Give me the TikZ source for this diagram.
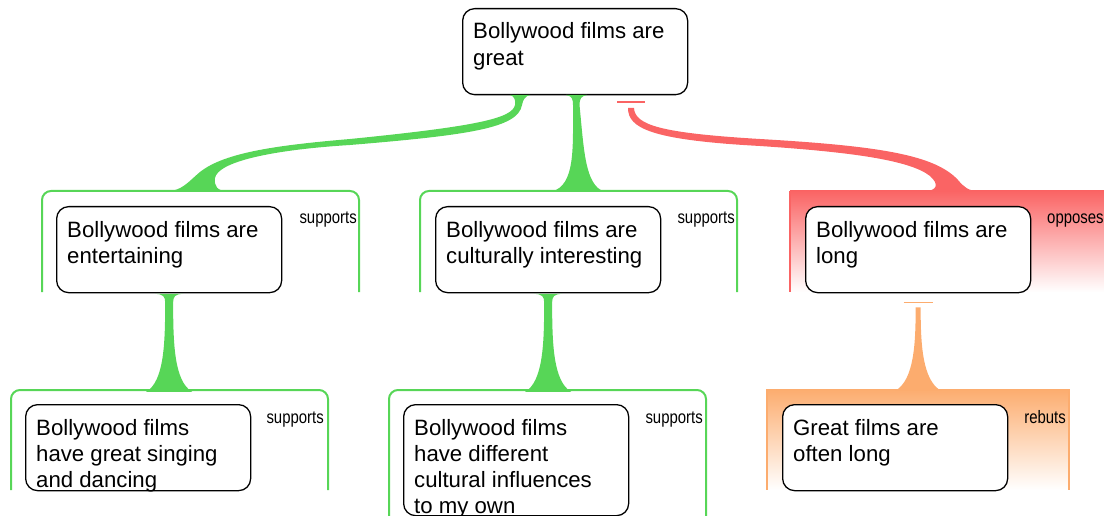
\documentclass[tikz,border=0pt]{standalone}
\usepackage{fontspec}
\setmainfont{Liberation Sans}
\usepackage{graphicx}
\usetikzlibrary{calc}
\definecolor{sgreen}{RGB}{87,214,87}
\definecolor{sred}{RGB}{250,100,100}
\definecolor{sorange}{RGB}{252,172,110}
\newcommand\mlines[1]{\begin{tabular}[t]{@{}l@{}}#1\end{tabular}}
\newcommand\narrow[1]{\scalebox{0.83}[1]{#1}}
\begin{document}
\begin{tikzpicture}[x=1pt,y=-1pt,
  claim/.style={draw=black, line width=1.3pt, rounded corners=12pt, fill=white,
    inner sep=0pt, anchor=north west, minimum width=225pt, minimum height=86pt},
  txt/.style={anchor=base west, inner sep=0pt, font=\fontsize{22.2}{26.2}\selectfont},
  rel/.style={anchor=base east, inner sep=0pt, font=\fontsize{18}{20}\selectfont},
  gframe/.style={draw=sgreen, line width=2pt, rounded corners=9pt},
  tbar/.style={line width=1.5pt}]
\useasboundingbox (0,0) rectangle (1104,516);

% ---- group frames ----
\draw[gframe] (42,292) -- (42,191) -- (359,191) -- (359,292);
\draw[gframe] (420,292) -- (420,191) -- (737,191) -- (737,292);
\shade[top color=sred, bottom color=white] (790,191) rectangle (1107,292);
\draw[sred, line width=1.3pt] (790,191) -- (790,292);
\draw[gframe] (11,490) -- (11,390) -- (328,390) -- (328,490);
\draw[gframe] (389,517) -- (389,390) -- (706,390) -- (706,517);
\shade[top color=sorange, bottom color=white] (767,389) rectangle (1069,490);
\draw[sorange, line width=1.3pt] (767,389) -- (767,490);
\draw[sorange, line width=1.3pt] (1069,389) -- (1069,490);

% ---- claim boxes ----
\node[claim] (top) at (462,8) {};
\node[claim] (n1) at (56,206) {};
\node[claim] (n2) at (435,206) {};
\node[claim] (n3) at (805,206) {};
\node[claim] (n4) at (25,404) {};
\node[claim, minimum height=111pt] (n5) at (403,404) {};
\node[claim] (n6) at (782,404) {};

% ---- connectors (tapered) ----
% top -> n1 (supports)
\fill[sgreen] (510,95) .. controls (514,96) and (516,100) .. (515,105)
  .. controls (512,118) and (480,126) .. (350,139)
  .. controls (280,145) and (225,152) .. (200,172)
  .. controls (188,182) and (182,191) .. (166,191.5)
  -- (228,191.5)
  .. controls (217,191) and (214,186) .. (215,178)
  .. controls (218,162) and (270,150) .. (350,145)
  .. controls (470,135) and (518,128) .. (522,105)
  .. controls (523,100) and (525,96) .. (530,95) -- cycle;
% top -> n2 (supports)
\fill[sgreen] (566,95) .. controls (572,96) and (573,99) .. (573,105)
  .. controls (573,150) and (575,185) .. (552,191.5) -- (604,191.5)
  .. controls (585,185) and (584,150) .. (579.5,105)
  .. controls (579.5,99) and (581,96) .. (587,95) -- cycle;
% top -> n3 (opposes)
\draw[sred, tbar] (617,102) -- (645,102);
\fill[sred] (634,108) .. controls (635,125) and (660,133) .. (760,139)
  .. controls (880,146) and (935,155) .. (958,180)
  .. controls (964,187) and (968,191) .. (980,191.5)
  -- (926,191.5)
  .. controls (936,190) and (940,185) .. (930,176)
  .. controls (910,160) and (850,152) .. (760,146)
  .. controls (650,140) and (628,128) .. (628,108) -- cycle;
% n1 -> n4, n2 -> n5 (supports)
\foreach \src in {n1,n2}{
  \fill[sgreen, shift={(\src.south)}] (-14,0.5) .. controls (-6,1) and (-4,3) .. (-4,9)
    .. controls (-4,50) and (-5,88) .. (-23,98.5) -- (23,98.5)
    .. controls (5,88) and (4,50) .. (4,9)
    .. controls (4,3) and (6,1) .. (14,0.5) -- cycle;
}
% n3 -> n6 (rebuts)
\draw[sorange, tbar, shift={(n3.south)}] (-14.5,9) -- (14.5,9);
\fill[sorange, shift={(n3.south)}] (-2.5,14) .. controls (-2.5,50) and (-4,87) .. (-23,97.5)
  -- (23,97.5) .. controls (4,87) and (2.5,50) .. (2.5,14) -- cycle;

% ---- texts ----
\node[txt] (ttop) at ($(top.north west)+(11,31)$) {\mlines{Bollywood films are\\great}};
\node[txt] (t1) at ($(n1.north west)+(11,31)$) {\mlines{Bollywood films are\\entertaining}};
\node[txt] (t2) at ($(n2.north west)+(11,31)$) {\mlines{Bollywood films are\\culturally interesting}};
\node[txt] (t3) at ($(n3.north west)+(11,31)$) {\mlines{Bollywood films are\\long}};
\node[txt] (t4) at ($(n4.north west)+(11,31)$) {\mlines{Bollywood films\\have great singing\\and dancing}};
\node[txt] (t5) at ($(n5.north west)+(11,31)$) {\mlines{Bollywood films\\have different\\cultural influences\\to my own}};
\node[txt] (t6) at ($(n6.north west)+(11,31)$) {\mlines{Great films are\\often long}};

\node[rel] (r1) at (357,223) {\narrow{supports}};
\node[rel] (r2) at (735,223) {\narrow{supports}};
\node[rel, anchor=base west] (r3) at (1047,223) {\narrow{opposes}};
\node[rel] (r4) at (324,423) {\narrow{supports}};
\node[rel] (r5) at (703,423) {\narrow{supports}};
\node[rel] (r6) at (1066,423) {\narrow{rebuts}};
\end{tikzpicture}
\end{document}
